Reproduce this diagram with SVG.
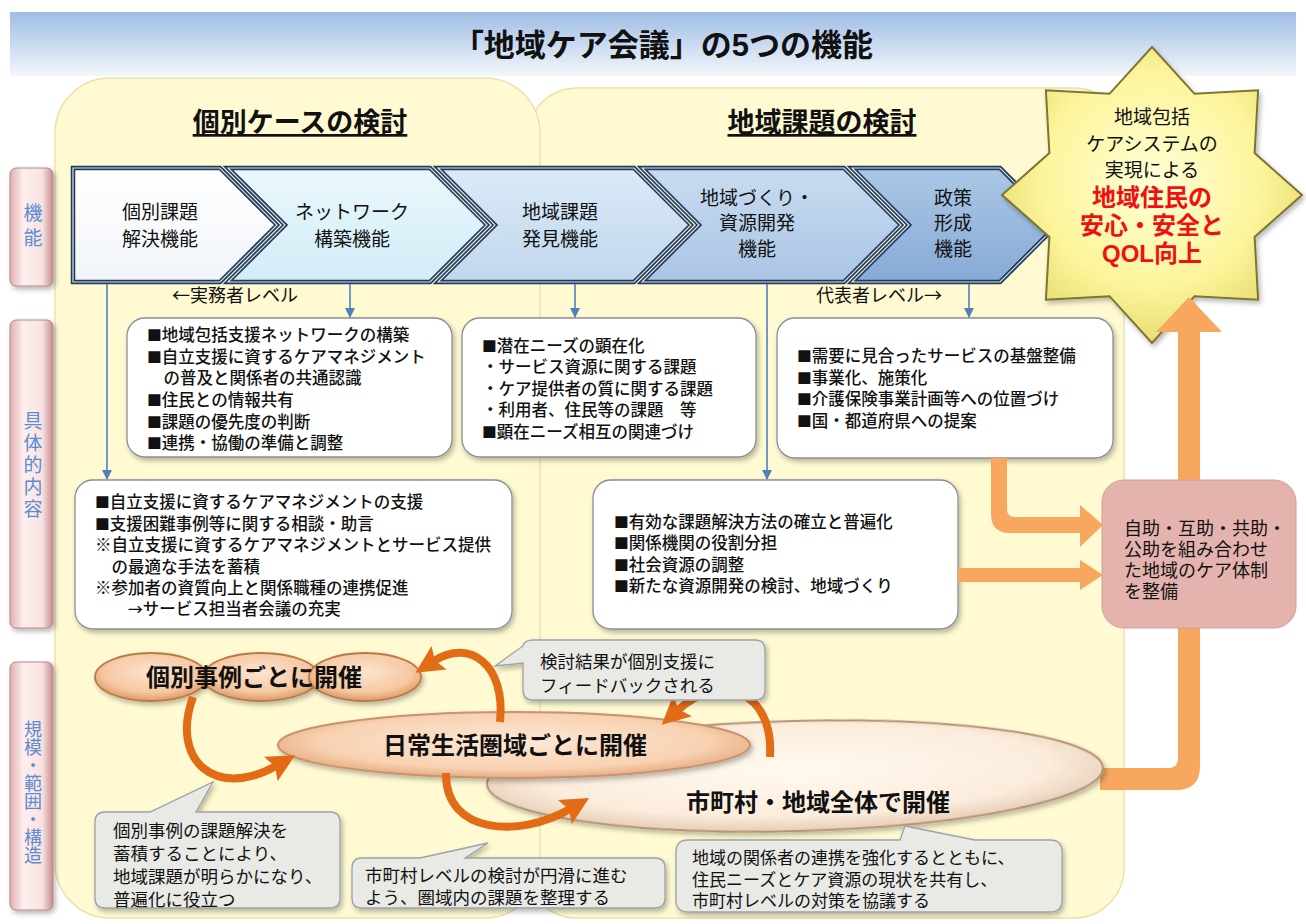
<svg xmlns="http://www.w3.org/2000/svg" width="1306" height="924" viewBox="0 0 1306 924">
<defs>
<style>
text{font-family:"Liberation Sans","Noto Sans CJK JP",sans-serif;fill:#111}
.sq{font-family:"Noto Sans CJK JP",sans-serif;font-size:14.8px}
.ar{font-family:"Noto Sans CJK JP",sans-serif}
.bx{font-size:16.5px;font-weight:500}
.cv{font-size:19px;text-anchor:middle}
.lb{fill:#5b8bd0;text-anchor:middle;writing-mode:vertical-rl}
.hd{font-size:27px;font-weight:700;text-anchor:middle;text-decoration:underline}
.co{font-size:17.5px}
.el{font-size:24px;font-weight:700;text-anchor:middle}
.box{fill:#fff;stroke:#8a8f96;stroke-width:1.3}
.call{fill:#e9e9e6;stroke:#9aa3ab;stroke-width:1.3}
.blue{stroke:#4f81bd;stroke-width:1.6;fill:none}
.loop{stroke:#e26b16;stroke-width:8;fill:none}
.big{fill:#f7a75e}
.chin{fill:none;stroke:#ffffff;stroke-width:1.2;stroke-opacity:0.85}
</style>
<linearGradient id="gTitle" x1="0" y1="0" x2="0" y2="1"><stop offset="0" stop-color="#9fbde5"/><stop offset="1" stop-color="#f3f7fb"/></linearGradient>
<linearGradient id="gLabel" x1="0" y1="0" x2="1" y2="0"><stop offset="0" stop-color="#e2aeae"/><stop offset="0.3" stop-color="#fdeeee"/><stop offset="0.75" stop-color="#f9e2e2"/><stop offset="1" stop-color="#c48c8c"/></linearGradient>
<linearGradient id="c1" x1="0" y1="0" x2="0" y2="1"><stop offset="0" stop-color="#ffffff"/><stop offset="1" stop-color="#f1f5f9"/></linearGradient>
<linearGradient id="c2" x1="0" y1="0" x2="0" y2="1"><stop offset="0" stop-color="#eaf8fc"/><stop offset="1" stop-color="#d2ecf6"/></linearGradient>
<linearGradient id="c3" x1="0" y1="0" x2="0" y2="1"><stop offset="0" stop-color="#dbeaf7"/><stop offset="1" stop-color="#c0d7ee"/></linearGradient>
<linearGradient id="c4" x1="0" y1="0" x2="0" y2="1"><stop offset="0" stop-color="#c9dcf0"/><stop offset="1" stop-color="#aac5e4"/></linearGradient>
<linearGradient id="c5" x1="0" y1="0" x2="0" y2="1"><stop offset="0" stop-color="#acc7e6"/><stop offset="1" stop-color="#86aad6"/></linearGradient>
<radialGradient id="gStar" cx="0.5" cy="0.45" r="0.6"><stop offset="0" stop-color="#ffffd6"/><stop offset="0.6" stop-color="#fcf59c"/><stop offset="1" stop-color="#e3d766"/></radialGradient>
<radialGradient id="gOr" cx="0.5" cy="0.4" r="0.6"><stop offset="0" stop-color="#fde4cf"/><stop offset="0.7" stop-color="#f6c8a2"/><stop offset="1" stop-color="#dc9a66"/></radialGradient>
<radialGradient id="gOr2" cx="0.5" cy="0.45" r="0.55"><stop offset="0" stop-color="#fde8d6"/><stop offset="0.75" stop-color="#f8d2b2"/><stop offset="1" stop-color="#e6ac80"/></radialGradient>
<radialGradient id="gCr" cx="0.5" cy="0.45" r="0.55"><stop offset="0" stop-color="#fffaf0"/><stop offset="0.75" stop-color="#fbecdc"/><stop offset="1" stop-color="#e7cdb6"/></radialGradient>
<filter id="sh" x="-10%" y="-10%" width="125%" height="135%"><feDropShadow dx="2" dy="3" stdDeviation="2.5" flood-color="#000" flood-opacity="0.28"/></filter>
<marker id="ab" markerUnits="userSpaceOnUse" markerWidth="10" markerHeight="10" refX="9" refY="5" orient="auto"><path d="M0,0 L10,5 L0,10 z" fill="#4f81bd"/></marker>
<marker id="ao" markerUnits="userSpaceOnUse" markerWidth="28" markerHeight="28" refX="6" refY="14" orient="auto"><path d="M0,0 L28,14 L0,28 L5,14 z" fill="#e26b16"/></marker>
</defs>

<g id="panels">
<path d="M577,88 H1074 A50,50 0 0 1 1124,138 V868 A50,50 0 0 1 1074,918 H577 A50,50 0 0 1 527,868 V138 A50,50 0 0 1 577,88 Z" fill="#fffad2" stroke="#f1dfae" stroke-width="1.5"/>
<path d="M110,78 H485 A55,55 0 0 1 540,133 V863 A55,55 0 0 1 485,918 H110 A55,55 0 0 1 55,863 V133 A55,55 0 0 1 110,78 Z" fill="#fffad2" stroke="#f1dfae" stroke-width="1.5"/>
</g>

<g id="title">
<rect x="10" y="12" width="1286" height="64" fill="url(#gTitle)"/>
<text x="663" y="56" style="font-size:31px;font-weight:700;text-anchor:middle">「地域ケア会議」の5つの機能</text>
</g>

<g id="labels">
<g id="label-kinou"><rect x="10" y="168" width="43" height="118" rx="6" fill="url(#gLabel)" stroke="#b08a8a" stroke-width="1" filter="url(#sh)"/>
<text class="lb" x="31" y="228" style="font-size:19px;letter-spacing:6px">機能</text></g>
<g id="label-naiyou"><rect x="10" y="320" width="43" height="308" rx="6" fill="url(#gLabel)" stroke="#b08a8a" stroke-width="1" filter="url(#sh)"/>
<text class="lb" x="31" y="466" style="font-size:19px;letter-spacing:3px">具体的内容</text></g>
<g id="label-kibo"><rect x="10" y="662" width="43" height="248" rx="6" fill="url(#gLabel)" stroke="#b08a8a" stroke-width="1" filter="url(#sh)"/>
<text class="lb" x="31" y="792" style="font-size:18px">規模・範囲・構造</text></g>
</g>

<g id="headings">
<text class="hd" x="300" y="132">個別ケースの検討</text>
<text class="hd" x="822" y="132">地域課題の検討</text>
</g>

<g id="chevrons" stroke="#1f3a5c" stroke-width="4.5" stroke-linejoin="miter">
<g id="chev5"><path d="M852,168 H1000 L1057,225 L1000,282 H852 L909,225 Z" fill="url(#c5)"/><path class="chin" d="M852,168 H1000 L1057,225 L1000,282 H852 L909,225 Z"/></g>
<g id="chev4"><path d="M642,168 H844 L901,225 L844,282 H642 L699,225 Z" fill="url(#c4)"/><path class="chin" d="M642,168 H844 L901,225 L844,282 H642 L699,225 Z"/></g>
<g id="chev3"><path d="M438,168 H634 L691,225 L634,282 H438 L495,225 Z" fill="url(#c3)"/><path class="chin" d="M438,168 H634 L691,225 L634,282 H438 L495,225 Z"/></g>
<g id="chev2"><path d="M228,168 H430 L487,225 L430,282 H228 L285,225 Z" fill="url(#c2)"/><path class="chin" d="M228,168 H430 L487,225 L430,282 H228 L285,225 Z"/></g>
<g id="chev1"><path d="M73,168 H220 L277,225 L220,282 H73 Z" fill="url(#c1)"/><path class="chin" d="M73,168 H220 L277,225 L220,282 H73 Z"/></g>
</g>
<g id="chevron-text">
<text class="cv"><tspan x="160" y="219">個別課題</tspan><tspan x="160" y="246">解決機能</tspan></text>
<text class="cv"><tspan x="352" y="219">ネットワーク</tspan><tspan x="352" y="246">構築機能</tspan></text>
<text class="cv"><tspan x="560" y="219">地域課題</tspan><tspan x="560" y="246">発見機能</tspan></text>
<text class="cv"><tspan x="757" y="205">地域づくり・</tspan><tspan x="757" y="230">資源開発</tspan><tspan x="757" y="256">機能</tspan></text>
<text class="cv"><tspan x="953" y="205">政策</tspan><tspan x="953" y="230">形成</tspan><tspan x="953" y="256">機能</tspan></text>
</g>

<g id="connectors">
<line class="blue" x1="107" y1="284" x2="107" y2="479" marker-end="url(#ab)"/>
<line class="blue" x1="350" y1="284" x2="350" y2="317" marker-end="url(#ab)"/>
<line class="blue" x1="575" y1="284" x2="575" y2="317" marker-end="url(#ab)"/>
<line class="blue" x1="767" y1="284" x2="767" y2="479" marker-end="url(#ab)"/>
<line class="blue" x1="969" y1="284" x2="969" y2="317" marker-end="url(#ab)"/>
</g>
<g id="levels">
<text x="235" y="302" style="font-size:18px;text-anchor:middle"><tspan class="ar">←</tspan>実務者レベル</text>
<text x="879" y="302" style="font-size:18px;text-anchor:middle">代表者レベル<tspan class="ar">→</tspan></text>
</g>

<g id="boxA"><rect class="box" x="127" y="318" width="325" height="139" rx="18" filter="url(#sh)"/>
<text class="bx"><tspan x="147" y="341"><tspan class="sq">■</tspan>地域包括支援ネットワークの構築</tspan><tspan x="147" y="363"><tspan class="sq">■</tspan>自立支援に資するケアマネジメント</tspan><tspan x="147" y="384">　の普及と関係者の共通認識</tspan><tspan x="147" y="406"><tspan class="sq">■</tspan>住民との情報共有</tspan><tspan x="147" y="428"><tspan class="sq">■</tspan>課題の優先度の判断</tspan><tspan x="147" y="449"><tspan class="sq">■</tspan>連携・協働の準備と調整</tspan></text></g>

<g id="boxB"><rect class="box" x="462" y="318" width="294" height="139" rx="18" filter="url(#sh)"/>
<text class="bx"><tspan x="482" y="352"><tspan class="sq">■</tspan>潜在ニーズの顕在化</tspan><tspan x="482" y="373">・サービス資源に関する課題</tspan><tspan x="482" y="395">・ケア提供者の質に関する課題</tspan><tspan x="482" y="416">・利用者、住民等の課題　等</tspan><tspan x="482" y="438"><tspan class="sq">■</tspan>顕在ニーズ相互の関連づけ</tspan></text></g>

<g id="boxC"><rect class="box" x="777" y="318" width="336" height="140" rx="18" filter="url(#sh)"/>
<text class="bx"><tspan x="797" y="362"><tspan class="sq">■</tspan>需要に見合ったサービスの基盤整備</tspan><tspan x="797" y="384"><tspan class="sq">■</tspan>事業化、施策化</tspan><tspan x="797" y="405"><tspan class="sq">■</tspan>介護保険事業計画等への位置づけ</tspan><tspan x="797" y="427"><tspan class="sq">■</tspan>国・都道府県への提案</tspan></text></g>

<g id="boxD"><rect class="box" x="75" y="480" width="437" height="149" rx="18" filter="url(#sh)"/>
<text class="bx"><tspan x="95" y="508"><tspan class="sq">■</tspan>自立支援に資するケアマネジメントの支援</tspan><tspan x="95" y="530"><tspan class="sq">■</tspan>支援困難事例等に関する相談・助言</tspan><tspan x="95" y="551">※自立支援に資するケアマネジメントとサービス提供</tspan><tspan x="95" y="573">　の最適な手法を蓄積</tspan><tspan x="95" y="594">※参加者の資質向上と関係職種の連携促進</tspan><tspan x="95" y="615">　　<tspan class="sq">→</tspan>サービス担当者会議の充実</tspan></text></g>

<g id="boxE"><rect class="box" x="593" y="480" width="365" height="149" rx="18" filter="url(#sh)"/>
<text class="bx"><tspan x="614" y="528"><tspan class="sq">■</tspan>有効な課題解決方法の確立と普遍化</tspan><tspan x="614" y="549"><tspan class="sq">■</tspan>関係機関の役割分担</tspan><tspan x="614" y="571"><tspan class="sq">■</tspan>社会資源の調整</tspan><tspan x="614" y="592"><tspan class="sq">■</tspan>新たな資源開発の検討、地域づくり</tspan></text></g>

<g id="star">
<polygon points="1152,47 1194.5,93.8 1258.1,90.3 1254.6,153.1 1302,195 1254.6,236.9 1258.1,299.7 1194.5,296.2 1152,343 1109.5,296.2 1045.9,299.7 1049.4,236.9 1002,195 1049.4,153.1 1045.9,90.3 1109.5,93.8" fill="url(#gStar)" stroke="#7d7430" stroke-width="2" filter="url(#sh)"/>
<text style="font-size:19px;text-anchor:middle"><tspan x="1152" y="124">地域包括</tspan><tspan x="1152" y="151">ケアシステムの</tspan><tspan x="1152" y="177">実現による</tspan></text>
<text style="font-size:24px;font-weight:700;text-anchor:middle;fill:#f01010"><tspan x="1152" y="206">地域住民の</tspan><tspan x="1152" y="234">安心・安全と</tspan><tspan x="1152" y="262">QOL向上</tspan></text>
</g>

<g id="big-arrows">
<path class="big" d="M991,458 H1007 V509 Q1007,517 1015,517 H1080 V505 L1103,525 L1080,547 V533 H1010 Q991,533 991,514 Z"/>
<path class="big" d="M958,568 H1080 V560 L1103,575 L1080,590 V582 H958 Z"/>
<path class="big" d="M1100,768 H1168 Q1178,768 1178,758 V332 H1156 L1189,297 L1222,332 H1200 V766 Q1200,790 1176,790 H1100 Z"/>
</g>

<g id="boxF"><rect x="1102" y="480" width="194" height="148" rx="22" fill="#e5b3ae" stroke="#d49c96" stroke-width="1"/>
<text style="font-size:18px"><tspan x="1124" y="535">自助・互助・共助・</tspan><tspan x="1124" y="556">公助を組み合わせ</tspan><tspan x="1124" y="577">た地域のケア体制</tspan><tspan x="1124" y="598">を整備</tspan></text></g>

<g id="ell-shichoson"><ellipse cx="795" cy="776" rx="308" ry="55" transform="rotate(-1.5 795 776)" fill="url(#gCr)" stroke="#b49478" stroke-width="2" filter="url(#sh)"/>
<text class="el" x="818" y="811">市町村・地域全体で開催</text></g>

<g id="ell-nichijo"><ellipse cx="514" cy="745" rx="236" ry="33" fill="url(#gOr2)" stroke="#c99270" stroke-width="2" filter="url(#sh)"/>
<text class="el" x="515" y="754">日常生活圏域ごとに開催</text></g>

<g id="ell-kobetsu">
<ellipse cx="151" cy="677" rx="56" ry="24" fill="url(#gOr)" stroke="#b87a48" stroke-width="1.8" filter="url(#sh)"/>
<ellipse cx="261" cy="677" rx="58" ry="24" fill="url(#gOr)" stroke="#b87a48" stroke-width="1.8" filter="url(#sh)"/>
<ellipse cx="365" cy="677" rx="56" ry="24" fill="url(#gOr)" stroke="#b87a48" stroke-width="1.8" filter="url(#sh)"/>
<text class="el" x="254" y="686">個別事例ごとに開催</text>
</g>

<g id="loop-arrows">
<path class="loop" d="M193,697 C170,760 215,800 276,766" marker-end="url(#ao)"/>
<path class="loop" d="M500,722 C506,665 470,638 434,661" marker-end="url(#ao)"/>
<path class="loop" d="M770,757 C774,690 720,672 678,710" marker-end="url(#ao)"/>
<path class="loop" d="M446,773 C445,835 520,838 570,809" marker-end="url(#ao)"/>
</g>

<g id="callout-feedback"><path class="call" d="M533,640 H755 Q765,640 765,650 V690 Q765,700 755,700 H533 Q523,700 523,690 V663 L495,666 L523,646 Q524,640 533,640 Z" filter="url(#sh)"/>
<text class="co"><tspan x="540" y="668">検討結果が個別支援に</tspan><tspan x="540" y="692">フィードバックされる</tspan></text></g>

<g id="callout-kobetsu"><path class="call" d="M105,812 H150 L213,782 L196,812 H330 Q340,812 340,822 V898 Q340,908 330,908 H105 Q95,908 95,898 V822 Q95,812 105,812 Z" filter="url(#sh)"/>
<text class="co"><tspan x="113" y="837">個別事例の課題解決を</tspan><tspan x="113" y="860">蓄積することにより、</tspan><tspan x="113" y="883">地域課題が明らかになり、</tspan><tspan x="113" y="906">普遍化に役立つ</tspan></text></g>

<g id="callout-nichijo"><path class="call" d="M362,858 H420 L488,843 L465,858 H655 Q665,858 665,868 V898 Q665,908 655,908 H362 Q352,908 352,898 V868 Q352,858 362,858 Z" filter="url(#sh)"/>
<text class="co"><tspan x="365" y="882">市町村レベルの検討が円滑に進む</tspan><tspan x="365" y="904">よう、圏域内の課題を整理する</tspan></text></g>

<g id="callout-shichoson"><path class="call" d="M688,840 H900 L905,826 L975,840 H1050 Q1062,840 1062,852 V900 Q1062,912 1050,912 H688 Q676,912 676,900 V852 Q676,840 688,840 Z" filter="url(#sh)"/>
<text style="font-size:17px"><tspan x="692" y="864">地域の関係者の連携を強化するとともに、</tspan><tspan x="692" y="886">住民ニーズとケア資源の現状を共有し、</tspan><tspan x="692" y="907">市町村レベルの対策を協議する</tspan></text></g>
</svg>
